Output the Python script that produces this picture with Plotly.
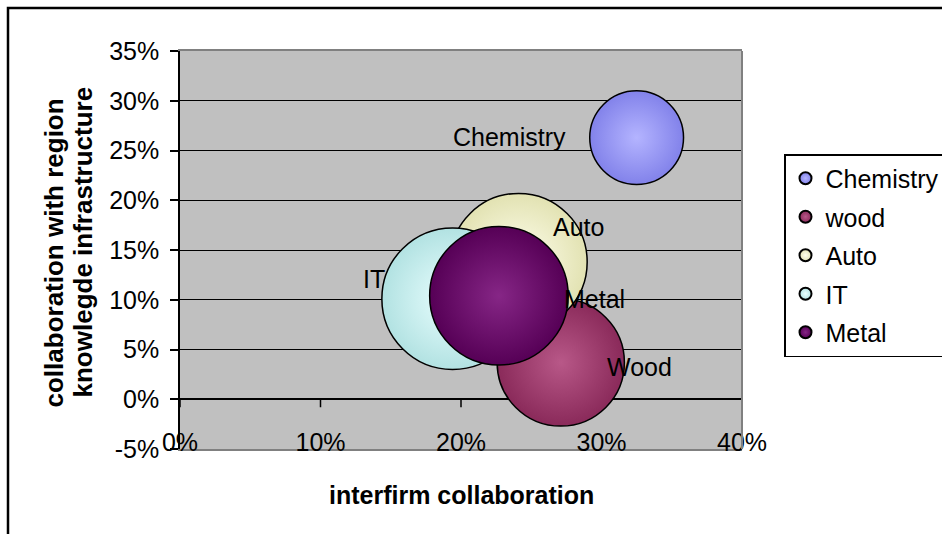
import plotly.graph_objects as go

# ---------------- data ----------------
sectors = ["Chemistry", "wood", "Auto", "IT", "Metal"]
label_text = ["Chemistry", "Wood", "Auto", "IT", "Metal"]
interfirm = [32.5, 27.1, 24.1, 19.4, 22.7]          # % interfirm collaboration
regional = [26.3, 3.7, 13.8, 10.1, 10.4]            # % collaboration with regional knowledge infrastructure
bubble_size = [44, 81, 94, 100, 96]                 # relative bubble size
x_ticks = [0, 10, 20, 30, 40]
x_tick_labels = ["0%", "10%", "20%", "30%", "40%"]
y_ticks = [-5, 0, 5, 10, 15, 20, 25, 30, 35]
y_tick_labels = ["-5%", "0%", "5%", "10%", "15%", "20%", "25%", "30%", "35%"]

# ---------------- styles ----------------
FONT = "Liberation Sans, Arial, sans-serif"
base_colors = ["#8282ea", "#8a2a5a", "#e2e2b2", "#b2e2e2", "#560056"]
glow_colors = ["#b4b4ff", "#b85888", "#ffffee", "#eaffff", "#862686"]
label_shift = [(-127, 1), (79, -5), (60, 35), (-79, 20), (96, -3)]

W, H = 942, 534
L, R, T, B = 180, 742, 51, 449


def px_x(p):
    return (p - L) / (R - L)


def px_y(p):
    return (B - p) / (B - T)


fig = go.Figure()
for i, name in enumerate(sectors):
    fig.add_trace(go.Scatter(
        x=[interfirm[i]], y=[regional[i]], name=name, mode="markers",
        legendgroup=name,
        marker=dict(size=[bubble_size[i]], sizemode="area", sizeref=0.01,
                    color=base_colors[i], opacity=1,
                    gradient=dict(type="radial", color=glow_colors[i]),
                    line=dict(color="black", width=1.5)),
        hoverinfo="skip",
    ))

annotations = []
for i in range(len(sectors)):
    annotations.append(dict(
        x=interfirm[i], y=regional[i], xref="x", yref="y", text=label_text[i],
        showarrow=False, xshift=label_shift[i][0], yshift=label_shift[i][1],
        font=dict(size=25, color="black", family=FONT)))

annotations += [
    dict(x=px_x(461), y=px_y(495), xref="paper", yref="paper",
         xanchor="center", yanchor="middle",
         text="<b>interfirm collaboration</b>", showarrow=False,
         font=dict(size=25, color="black", family=FONT)),
    dict(x=px_x(53), y=px_y(410), xref="paper", yref="paper",
         xanchor="center", yanchor="bottom",
         text="<b>collaboration with region</b>", textangle=-90, showarrow=False,
         font=dict(size=26, color="black", family=FONT)),
    dict(x=px_x(82), y=px_y(400), xref="paper", yref="paper",
         xanchor="center", yanchor="bottom",
         text="<b>knowlegde infrastructure</b>", textangle=-90, showarrow=False,
         font=dict(size=26, color="black", family=FONT)),
]

shapes = [
    # outer chart frame
    dict(type="rect", xref="paper", yref="paper", x0=px_x(8), x1=px_x(1000),
         y0=px_y(600), y1=px_y(8), line=dict(color="black", width=2.5),
         fillcolor="rgba(0,0,0,0)", layer="below"),
    # right border of plot area
    dict(type="line", xref="paper", yref="paper", x0=1, x1=1, y0=0, y1=1,
         line=dict(color="#808080", width=2), layer="above"),
]
# x-axis tick marks crossing at y = 0
for t in x_ticks:
    shapes.append(dict(type="line", xref="x", yref="y", x0=t, x1=t,
                       ysizemode="pixel", yanchor=0, y0=0, y1=-8,
                       line=dict(color="black", width=1.5), layer="below"))

fig.update_layout(
    width=W, height=H,
    margin=dict(l=L, r=W - R, t=T, b=H - B, autoexpand=False),
    paper_bgcolor="white", plot_bgcolor="#c0c0c0",
    font=dict(family=FONT, size=25, color="black"),
    showlegend=True,
    legend=dict(x=px_x(784), y=px_y(154), xanchor="left", yanchor="top",
                bgcolor="white", bordercolor="black", borderwidth=1.5,
                font=dict(size=25, family=FONT, color="black"),
                itemsizing="constant", tracegroupgap=3),
    xaxis=dict(range=[0, 40], tickvals=x_ticks, ticktext=x_tick_labels,
               showgrid=False, zeroline=False, showline=True, linecolor="#808080",
               linewidth=2, mirror=True, ticks="", ticklabelstandoff=-30,
               tickfont=dict(size=25, family=FONT)),
    yaxis=dict(range=[-5, 35], tickvals=y_ticks, ticktext=y_tick_labels,
               showgrid=True, gridcolor="black", gridwidth=1.2, zeroline=True,
               zerolinecolor="black", zerolinewidth=1.5, showline=True,
               linecolor="black", linewidth=1.5, ticks="outside", ticklen=8,
               tickcolor="black", tickwidth=1.5, ticklabelstandoff=6,
               tickfont=dict(size=25, family=FONT)),
    annotations=annotations, shapes=shapes,
)

fig.write_html("out.html", config={"displayModeBar": False},
               post_script="document.body.style.margin='0';")
